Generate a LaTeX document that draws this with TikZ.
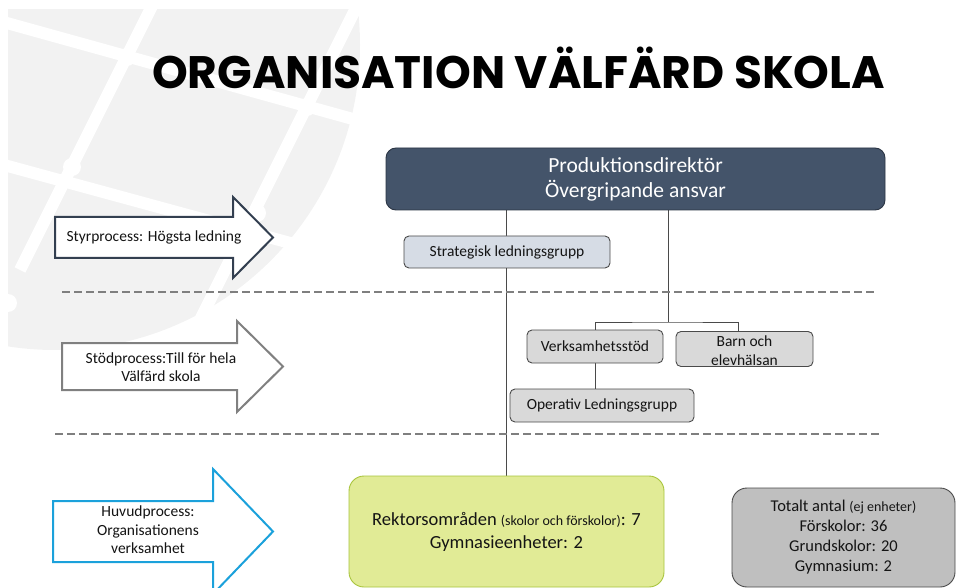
\documentclass[tikz,border=0pt]{standalone}
\usepackage{fontspec}
\setmainfont{Carlito}
\newfontfamily\titelfont{Poppins}
\usetikzlibrary{positioning}

\definecolor{morkbla}{HTML}{44546A}
\definecolor{prodkant}{HTML}{2B3544}
\definecolor{ljusbla}{HTML}{D6DCE5}
\definecolor{ljusgra}{HTML}{D9D9D9}
\definecolor{mellangra}{HTML}{BFBFBF}
\definecolor{kant}{HTML}{4A4A4A}
\definecolor{limegron}{HTML}{E1EB96}
\definecolor{limekant}{HTML}{A8C43C}
\definecolor{styrfarg}{HTML}{333F50}
\definecolor{stodfarg}{HTML}{808080}
\definecolor{huvudfarg}{HTML}{1BA1DB}
\definecolor{streckfarg}{HTML}{7F7F7F}
\definecolor{vattenfarg}{HTML}{F2F2F2}
\definecolor{textfarg}{HTML}{141414}

\pgfdeclarelayer{vatten}
\pgfdeclarelayer{linjer}
\pgfsetlayers{vatten,linjer,main}

\tikzset{
  ruta/.style={draw=kant, line width=0.9pt, rounded corners=5pt, minimum height=33pt,
    inner sep=1pt, align=center, text=textfarg, font=\fontsize{15.5}{18}\selectfont},
  storruta/.style={ruta, rounded corners=15pt, font=\fontsize{18.5}{23}\selectfont},
  pil/.style={line width=2pt, fill=white, line join=miter},
  piltext/.style={align=center, inner sep=0pt, text=textfarg, font=\fontsize{15.5}{18.5}\selectfont},
  streck/.style={draw=streckfarg, line width=1.3pt, dash pattern=on 8pt off 4pt},
  linje/.style={draw=kant, line width=1pt}
}

\begin{document}
\begin{tikzpicture}[x=1pt, y=-1pt]
  \useasboundingbox (0,0) rectangle (956,588);
  \clip (0,0) rectangle (956,588);

  % vattenmarke i bakgrunden
  \begin{pgfonlayer}{vatten}
    \begin{scope}
      \clip (8,10) rectangle (956,588);
      \fill[vattenfarg] (55,45) circle[radius=305];
      \begin{scope}[white, line width=12pt]
        \draw (-40,10) -- (360,121);
        \draw (-40,153) -- (360,262);
        \draw (195,-80) -- (20,270);
        \draw (370,-20) -- (180,360);
      \end{scope}
      \foreach \px/\py in {127/57, 72/167, 307/107, 257/213, 8/303}
        \fill[white] (\px,\py) circle[radius=9];
    \end{scope}
  \end{pgfonlayer}

  % rubrik
  \node[anchor=base, inner sep=0pt, font=\titelfont\bfseries\fontsize{45.5}{50}\selectfont]
    (titel) at (518.5,89) {ORGANISATION VÄLFÄRD SKOLA};

  % processpilar
  \draw[pil, draw=styrfarg] (55,217) -- (233,217) -- (233,197) -- (273,237.5)
    -- (233,278) -- (233,258) -- (55,258) -- cycle;
  \node[piltext] (styr) at (154,237.5) {Styrprocess: Högsta ledning};

  \draw[pil, draw=stodfarg] (62,343) -- (237,343) -- (237,321) -- (283,366.5)
    -- (237,412) -- (237,390) -- (62,390) -- cycle;
  \node[piltext] (stod) at (161,367) {Stödprocess:Till för hela\\Välfärd skola};

  \draw[pil, draw=huvudfarg] (53,501) -- (213,501) -- (213,469) -- (273,531.5)
    -- (213,594) -- (213,562) -- (53,562) -- cycle;
  \node[piltext] (huvud) at (148,530) {Huvudprocess:\\Organisationens\\verksamhet};

  % streckade gränser
  \draw[streck] (62,292) -- (876,292);
  \draw[streck] (55,434) -- (880,434);

  % organisationens rutor
  \node[ruta, fill=morkbla, draw=prodkant, text=white, rounded corners=10pt,
    minimum width=499pt, minimum height=62pt, font=\fontsize{21.5}{25}\selectfont]
    (prod) at (635.5,179) {Produktionsdirektör\\Övergripande ansvar};
  \node[ruta, fill=ljusbla, minimum width=206pt, minimum height=32pt]
    (strat) at (507,252) {Strategisk ledningsgrupp};
  \node[ruta, fill=ljusgra, minimum width=136pt] (verk) at (595,346.5) {Verksamhetsstöd};
  \node[ruta, fill=ljusgra, minimum width=137pt, font=\fontsize{15.5}{18.5}\selectfont]
    (barn) at (744.5,349) {\vphantom{B}\\[-14pt]Barn och\\elevhälsan};
  \node[ruta, fill=ljusgra, minimum width=184pt] (oper) at (602,405.5) {Operativ Ledningsgrupp};
  \node[storruta, fill=limegron, draw=limekant, minimum width=315pt, minimum height=111pt]
    (rekt) at (506.5,531.5)
    {Rektorsområden {\fontsize{14}{16}\selectfont (skolor och förskolor)}: 7\\Gymnasieenheter: 2};
  \node[storruta, fill=mellangra, minimum width=223pt, minimum height=99pt,
    font=\fontsize{16.5}{20}\selectfont]
    (totalt) at (843.5,537.5)
    {Totalt antal {\fontsize{14}{16}\selectfont(ej enheter)}\\Förskolor: 36\\Grundskolor: 20\\Gymnasium: 2};

  % linjer mellan rutorna
  \coordinate (gren) at (668,322);
  \begin{pgfonlayer}{linjer}
    \draw[linje] (rekt.north |- prod.south) -- (rekt.north);
    \draw[linje] (prod.south -| gren) -- (gren);
    \draw[linje] (verk.north) |- (gren) -| ([xshift=-6pt]barn.north);
    \draw[linje] (verk.south) -- (verk.south |- oper.north);
  \end{pgfonlayer}
\end{tikzpicture}
\end{document}
